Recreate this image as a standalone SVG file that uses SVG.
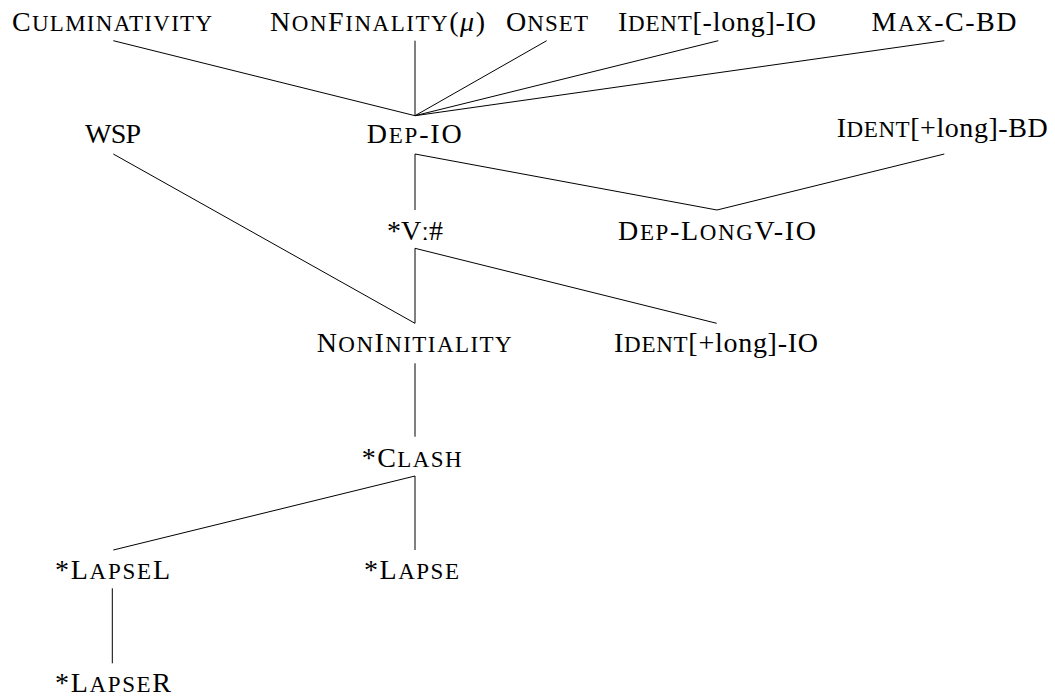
<svg xmlns="http://www.w3.org/2000/svg" width="1055" height="696" viewBox="0 0 1055 696">
<style>
.lbl{font-size:28px;fill:#000}
.sc{font-size:23px}
.it{font-style:italic}
.edges line{stroke:#000;stroke-width:1;fill:none}
</style>
<rect width="1055" height="696" fill="#fff"/>
<g class="edges" id="connectors">
<line x1="113.3" y1="40.7" x2="415" y2="115.7"/>
<line x1="415" y1="40.7" x2="415" y2="115.7"/>
<line x1="546.7" y1="40.7" x2="415" y2="115.7"/>
<line x1="718.3" y1="40.7" x2="415" y2="115.7"/>
<line x1="944.3" y1="40.7" x2="415" y2="115.7"/>
<line x1="113.3" y1="154" x2="415" y2="323.3"/>
<line x1="415" y1="154" x2="415" y2="210"/>
<line x1="415" y1="154" x2="717" y2="210"/>
<line x1="944.3" y1="154" x2="717" y2="210"/>
<line x1="415" y1="248.3" x2="415" y2="323.3"/>
<line x1="415" y1="248.3" x2="716.7" y2="323.3"/>
<line x1="415" y1="363.3" x2="415" y2="436.7"/>
<line x1="415" y1="476" x2="113.3" y2="550"/>
<line x1="415" y1="476" x2="415" y2="550"/>
<line x1="112.3" y1="588.3" x2="112.3" y2="663.3"/>
</g>
<g class="lbl" font-family="Liberation Serif" font-size="28">
<g id="culminativity"><text x="12" y="30.7" textLength="200" lengthAdjust="spacing">C<tspan class="sc">ULMINATIVITY</tspan></text></g>
<g id="nonfinality"><text x="270" y="30.7" textLength="215" lengthAdjust="spacing">N<tspan class="sc">ON</tspan>F<tspan class="sc">INALITY</tspan>(<tspan class="it">μ</tspan>)</text></g>
<g id="onset"><text x="506" y="30.7" textLength="82" lengthAdjust="spacing">O<tspan class="sc">NSET</tspan></text></g>
<g id="ident-minus-long-io"><text x="618" y="30.7" textLength="198" lengthAdjust="spacing">I<tspan class="sc">DENT</tspan>[-long]-IO</text></g>
<g id="max-c-bd"><text x="871.5" y="30.7" textLength="145" lengthAdjust="spacing">M<tspan class="sc">AX</tspan>-C-BD</text></g>
<g id="wsp"><text x="85" y="143.3" textLength="56" lengthAdjust="spacing">WSP</text></g>
<g id="dep-io"><text x="366.7" y="143.3" textLength="95" lengthAdjust="spacing">D<tspan class="sc">EP</tspan>-IO</text></g>
<g id="ident-plus-long-bd"><text x="836.7" y="136.7" textLength="211" lengthAdjust="spacing">I<tspan class="sc">DENT</tspan>[+long]-BD</text></g>
<g id="v-long-final"><text x="387" y="239.5" textLength="56" lengthAdjust="spacing">*Vː#</text></g>
<g id="dep-longv-io"><text x="618" y="239.5" textLength="198" lengthAdjust="spacing">D<tspan class="sc">EP</tspan>-L<tspan class="sc">ONG</tspan>V-IO</text></g>
<g id="noninitiality"><text x="316.7" y="351.7" textLength="195" lengthAdjust="spacing">N<tspan class="sc">ON</tspan>I<tspan class="sc">NITIALITY</tspan></text></g>
<g id="ident-plus-long-io"><text x="614" y="351.7" textLength="204" lengthAdjust="spacing">I<tspan class="sc">DENT</tspan>[+long]-IO</text></g>
<g id="clash"><text x="361.7" y="466.7" textLength="100" lengthAdjust="spacing">*C<tspan class="sc">LASH</tspan></text></g>
<g id="lapsel"><text x="55" y="579.3" textLength="115" lengthAdjust="spacing">*L<tspan class="sc">APSE</tspan>L</text></g>
<g id="lapse"><text x="364" y="579.3" textLength="95" lengthAdjust="spacing">*L<tspan class="sc">APSE</tspan></text></g>
<g id="lapser"><text x="55" y="691.7" textLength="116" lengthAdjust="spacing">*L<tspan class="sc">APSE</tspan>R</text></g>
</g>
</svg>
